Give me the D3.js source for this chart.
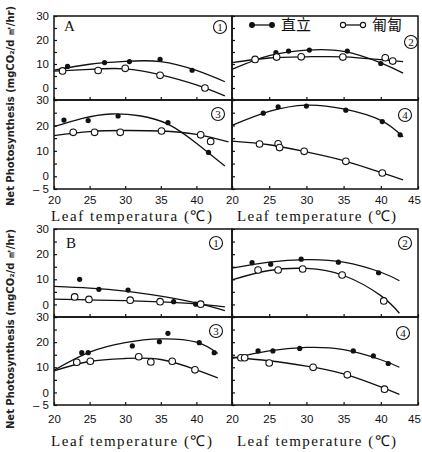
<!DOCTYPE html>
<html>
<head>
<meta charset="utf-8">
<script src="https://cdn.jsdelivr.net/npm/d3@7"></script>
<style>
  body { margin: 0; background: #fff; }
</style>
</head>
<body>
<div class="chart"></div>
<script>
// measured points: [leaf temperature, net photosynthesis]
// "erect" = 直立 (filled), "creep" = 匍匐 (open)
const a1Erect = [[21.9, 9.0], [27.1, 10.6], [30.6, 11.0], [34.9, 11.9], [39.4, 7.4]];
const a1Creep = [[21.2, 7.1], [26.2, 7.3], [30.0, 8.2], [34.9, 5.3], [41.2, 0.0]];
const a2Erect = [[25.9, 14.7], [27.6, 15.4], [30.4, 15.8], [35.5, 15.4], [40.0, 10.2]];
const a2Creep = [[23.1, 11.9], [26.0, 12.9], [29.3, 13.0], [34.9, 12.9], [40.6, 12.6], [41.6, 11.2]];
const a3Erect = [[21.4, 22.1], [24.8, 21.9], [29.0, 23.7], [36.0, 21.1], [41.7, 9.4]];
const a3Creep = [[22.7, 17.3], [25.7, 17.3], [29.3, 17.3], [35.1, 17.8], [40.6, 16.3], [42.0, 13.7]];
const a4Erect = [[24.2, 24.8], [26.2, 27.3], [30.0, 27.6], [35.3, 26.0], [40.2, 21.5], [42.6, 16.3]];
const a4Creep = [[23.7, 12.7], [26.2, 12.8], [26.4, 11.3], [29.7, 9.8], [35.3, 5.9], [40.2, 1.3]];
const b1Erect = [[23.6, 10.0], [26.3, 6.0], [30.4, 5.7], [36.8, 1.1], [39.9, 0.1]];
const b1Creep = [[22.9, 3.0], [24.9, 2.0], [30.7, 1.7], [34.9, 1.1], [40.6, 0.1]];
const b2Erect = [[22.7, 16.6], [25.2, 16.0], [29.3, 18.0], [34.3, 16.8], [39.7, 12.6]];
const b2Creep = [[23.5, 13.7], [26.2, 13.7], [29.5, 14.1], [34.8, 11.7], [40.4, 1.4]];
const b3Erect = [[23.9, 15.8], [24.8, 15.8], [31.0, 18.5], [34.8, 20.2], [36.0, 23.5], [40.4, 19.8], [42.5, 15.8]];
const b3Creep = [[23.2, 12.0], [25.1, 12.4], [31.9, 14.2], [33.6, 12.1], [36.6, 12.4], [39.8, 9.0]];
const b4Erect = [[23.5, 16.5], [25.5, 16.5], [29.1, 17.5], [36.3, 16.5], [39.0, 14.5], [41.0, 11.5]];
const b4Creep = [[21.2, 13.8], [21.7, 13.8], [25.0, 11.7], [30.9, 10.0], [35.5, 7.0], [40.5, 1.3]];

// fitted curves
const a1ErectFit = [[20, 7.4], [25, 9.9], [30, 11.1], [35, 11.0], [40, 7.3], [44, 2.6]];
const a1CreepFit = [[20, 7.0], [25, 7.8], [30, 8.0], [35, 5.5], [40, 1.3], [44, -3.3]];
const a2ErectFit = [[20, 7.8], [25, 13.5], [30, 15.8], [35, 15.3], [40, 10.5], [43, 6.2]];
const a2CreepFit = [[20, 10.6], [25, 12.5], [30, 13.0], [35, 13.0], [40, 11.8], [43, 11.0]];
const a3ErectFit = [[20, 19.5], [24, 22.8], [28, 24.5], [32, 23.8], [36, 20.5], [40, 13.0], [44, 4.0]];
const a3CreepFit = [[20, 16.0], [25, 17.6], [30, 18.0], [35, 17.8], [40, 16.5], [44.5, 13.5]];
const a4ErectFit = [[20, 20.0], [25, 25.5], [30, 28.0], [35, 26.5], [40, 22.0], [43, 15.5]];
const a4CreepFit = [[20, 13.8], [25, 12.4], [30, 9.6], [35, 6.2], [40, 1.5], [43, -1.4]];
const b1ErectFit = [[20, 7.2], [25, 6.5], [30, 5.3], [35, 3.3], [40, 0.6], [44, -2.5]];
const b1CreepFit = [[20, 2.1], [25, 1.8], [30, 1.5], [35, 1.0], [40, 0.2], [44, -1.0]];
const b2ErectFit = [[20, 14.4], [25, 16.8], [30, 17.8], [35, 16.8], [40, 12.8], [42.5, 9.4]];
const b2CreepFit = [[20, 9.8], [25, 13.5], [30, 14.3], [35, 11.5], [40, 3.5], [42.5, -3.5]];
const b3ErectFit = [[20, 8.8], [25, 16.0], [30, 19.8], [35, 21.3], [40, 20.0], [43, 15.5]];
const b3CreepFit = [[20, 8.6], [25, 12.3], [30, 13.5], [35, 13.1], [40, 9.0], [43, 5.8]];
const b4ErectFit = [[20, 13.5], [25, 16.5], [30, 17.9], [35, 17.0], [40, 13.0], [42.5, 10.0]];
const b4CreepFit = [[20, 14.0], [25, 12.6], [30, 10.5], [35, 7.4], [40, 2.2], [42.5, -0.8]];

const xTicks = [20, 25, 30, 35, 40, 45];
const yTicks = [-5, 0, 5, 10, 15, 20, 25, 30];
const yLabels = [0, 10, 20, 30];
const legendNames = ["直立", "匍匐"];
const yTitle = "Net Photosynthesis (mgCO₂/d ㎡/hr)";
const xTitlesA = ["Leaf temperatura (℃)", "Leaf temperature (℃)"];
const xTitlesB = ["Leaf temperature (℃)", "Leaf temperature (℃)"];

const W = 422, H = 452;
const svg = d3.select(".chart").append("svg")
  .attr("width", W).attr("height", H)
  .style("font-family", "'Liberation Sans', Arial, sans-serif");

const cols = [[54, 232], [232, 418]];
const blocks = [
  {name: "A", rows: [[16, 100], [100, 189]], pad: 7, titleY: 221, yc: 106, titles: xTitlesA,
   panels: [[a1Erect, a1Creep, a1ErectFit, a1CreepFit], [a2Erect, a2Creep, a2ErectFit, a2CreepFit],
            [a3Erect, a3Creep, a3ErectFit, a3CreepFit], [a4Erect, a4Creep, a4ErectFit, a4CreepFit]],
   marks: [[220, 27], [411, 42], [218, 114], [405, 115]], letter: [64, 31]},
  {name: "B", rows: [[229, 317], [317, 405]], pad: 10, titleY: 446, yc: 329, titles: xTitlesB,
   panels: [[b1Erect, b1Creep, b1ErectFit, b1CreepFit], [b2Erect, b2Creep, b2ErectFit, b2CreepFit],
            [b3Erect, b3Creep, b3ErectFit, b3CreepFit], [b4Erect, b4Creep, b4ErectFit, b4CreepFit]],
   marks: [[216, 243], [405, 243], [216, 331], [403, 333]], letter: [66, 248]}
];

blocks.forEach(b => {
  b.panels.forEach((p, i) => {
    const r = Math.floor(i / 2), c = i % 2;
    const x = d3.scaleLinear().domain([20, 45]).range(cols[c]);
    const y = d3.scaleLinear().domain([-5, 30]).range([b.rows[r][1], b.rows[r][0]]);
    const g = svg.append("g");

    // frame
    g.append("rect")
      .attr("x", cols[c][0]).attr("y", b.rows[r][0])
      .attr("width", cols[c][1] - cols[c][0]).attr("height", b.rows[r][1] - b.rows[r][0])
      .attr("fill", "none").attr("stroke", "#111").attr("stroke-width", 1.5);

    // left axis ticks
    const yAxis = d3.axisLeft(y).tickValues(yTicks).tickSizeInner(-3).tickSizeOuter(0).tickPadding(5)
      .tickFormat(d => {
        if (c === 1) return "";
        if (d === -5) return r === 1 ? "– 5" : "";
        return yLabels.includes(d) ? d : "";
      });
    g.append("g").attr("transform", `translate(${cols[c][0]},0)`)
      .call(yAxis)
      .call(a => a.select(".domain").remove())
      .call(a => a.selectAll("line").attr("stroke", "#111").attr("stroke-width", 1.2))
      .call(a => a.selectAll("text").attr("font-size", 11.5).attr("fill", "#111")
        .attr("font-family", "'Liberation Sans', Arial, sans-serif"));

    // bottom axis ticks
    const xAxis = d3.axisBottom(x).tickValues(xTicks).tickSizeInner(-3).tickSizeOuter(0).tickPadding(b.pad)
      .tickFormat(d => (r === 1 && (c === 1 || d < 45)) ? d : "");
    g.append("g").attr("transform", `translate(0,${b.rows[r][1]})`)
      .call(xAxis)
      .call(a => a.select(".domain").remove())
      .call(a => a.selectAll("line").attr("stroke", "#111").attr("stroke-width", 1.2))
      .call(a => a.selectAll("text").attr("font-size", 11.5).attr("fill", "#111")
        .attr("font-family", "'Liberation Sans', Arial, sans-serif")
        .attr("dx", d => d === 45 ? -4 : 0));

    const line = d3.line().x(d => x(d[0])).y(d => y(d[1])).curve(d3.curveNatural);
    [p[2], p[3]].forEach(f => {
      g.append("path").datum(f)
        .attr("fill", "none").attr("stroke", "#111").attr("stroke-width", 1.3)
        .attr("d", line);
    });

    g.selectAll(".erect").data(p[0]).join("circle").attr("class", "erect")
      .attr("cx", d => x(d[0])).attr("cy", d => y(d[1])).attr("r", 2.6)
      .attr("fill", "#111");
    g.selectAll(".creep").data(p[1]).join("circle").attr("class", "creep")
      .attr("cx", d => x(d[0])).attr("cy", d => y(d[1])).attr("r", 3.3)
      .attr("fill", "#fff").attr("stroke", "#111").attr("stroke-width", 1.1);

    // circled panel number
    const m = b.marks[i];
    g.append("circle").attr("cx", m[0]).attr("cy", m[1]).attr("r", 6.5)
      .attr("fill", "#fff").attr("stroke", "#111").attr("stroke-width", 1.1);
    g.append("text").attr("x", m[0]).attr("y", m[1] + 4)
      .attr("text-anchor", "middle").attr("font-size", 11).attr("fill", "#111")
      .attr("font-family", "'Liberation Serif', serif")
      .text(i + 1);
  });

  // block letter
  svg.append("text").attr("x", b.letter[0]).attr("y", b.letter[1])
    .attr("font-size", 15).attr("font-family", "'Liberation Serif', serif").attr("fill", "#111")
    .text(b.name);

  // x titles
  b.titles.forEach((t, c) => {
    svg.append("text")
      .attr("x", c === 0 ? 51 : 237).attr("y", b.titleY)
      .attr("font-size", 15).attr("font-family", "'Liberation Serif', serif").attr("fill", "#111")
      .attr("textLength", c === 0 ? 161 : 159).attr("lengthAdjust", "spacing")
      .text(t);
  });

  // y title
  svg.append("text")
    .attr("transform", `translate(14,${b.yc}) rotate(-90)`)
    .attr("text-anchor", "middle")
    .attr("font-size", 10).attr("font-weight", "bold").attr("fill", "#222")
    .attr("font-family", "'DejaVu Sans', sans-serif")
    .attr("textLength", 200).attr("lengthAdjust", "spacing")
    .text(yTitle);
});

// legend
const leg = svg.append("g");
[[252, 272, 281], [343, 363, 372]].forEach((pos, k) => {
  leg.append("line").attr("x1", pos[0]).attr("x2", pos[1]).attr("y1", 25).attr("y2", 25)
    .attr("stroke", "#111").attr("stroke-width", 1.3);
  [pos[0], pos[1]].forEach(cx => {
    leg.append("circle").attr("cx", cx).attr("cy", 25).attr("r", k === 0 ? 2.4 : 2.6)
      .attr("fill", k === 0 ? "#111" : "#fff").attr("stroke", "#111").attr("stroke-width", 1.1);
  });
  leg.append("text").attr("x", pos[2]).attr("y", 30)
    .attr("font-size", 15).attr("fill", "#111")
    .attr("font-family", "'Noto Sans CJK SC', sans-serif")
    .text(legendNames[k]);
});
</script>
</body>
</html>
